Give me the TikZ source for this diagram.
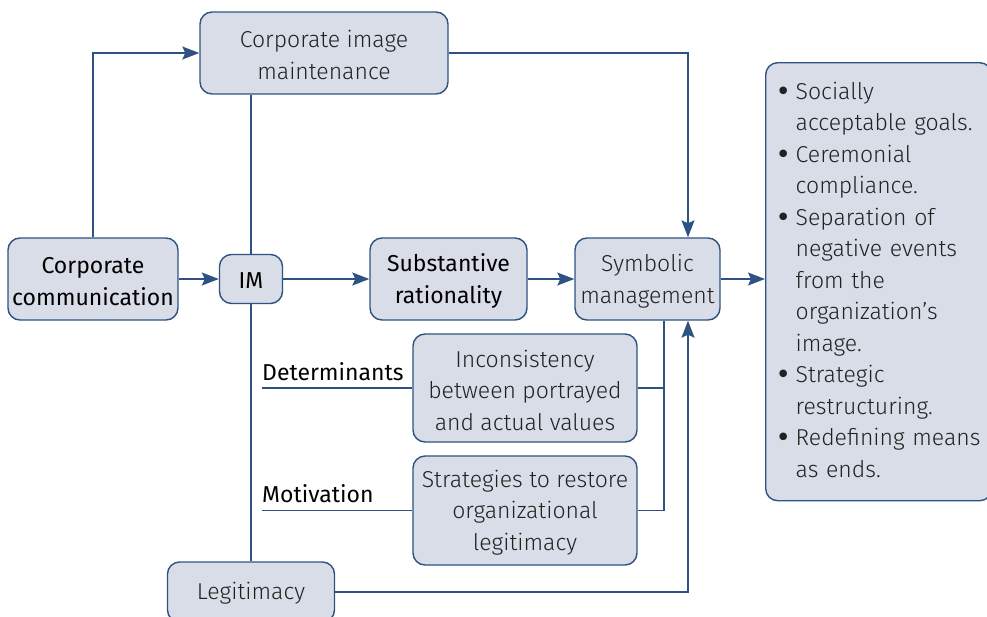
\documentclass[tikz,border=0pt]{standalone}
\usepackage{fontspec}
\usetikzlibrary{arrows.meta}
\newfontfamily\lightf{Fira Sans Light}
\newfontfamily\regf{Fira Sans}
\newfontfamily\dejavu{DejaVu Sans}
\definecolor{boxfill}{HTML}{D8DDE7}
\definecolor{bord}{HTML}{2E5382}
\definecolor{txt}{HTML}{222222}
\newcommand{\bul}{{\dejavu\fontsize{26}{31.5}\selectfont\raisebox{-1pt}{•}}}
\newcommand{\dn}{\rule{0pt}{21.5pt}}
\newcommand{\dns}{\rule{0pt}{19pt}}
\tikzset{
  box/.style={draw=bord, fill=boxfill, rounded corners=12pt, line width=1.4pt,
    align=center, inner sep=0pt, text=txt, font=\lightf\fontsize{23}{31.5}\selectfont},
  boxb/.style={box, font=\regf\fontsize{23}{31.5}\selectfont, text=black},
  lbl/.style={inner sep=0pt, text=black, font=\regf\fontsize{23}{31.5}\selectfont},
  conn/.style={draw=bord, line width=1.4pt},
  arr/.style={conn, -{Stealth[length=17pt,width=13pt,inset=3pt]}}
}
\begin{document}
\begin{tikzpicture}[x=1pt,y=-1pt]
\useasboundingbox (0,0) rectangle (987,616);
\begin{scope}
\clip (0,0) rectangle (987,616);
% nodes
\node[box, minimum width=248pt, minimum height=82pt] (cim) at (324,53) {\dn Corporate image\\maintenance};
\node[boxb, minimum width=170pt, minimum height=82pt] (cc) at (93,279) {\dn Corporate\\communication};
\node[boxb, minimum width=63pt, minimum height=49pt] (im) at (251,279) {\dns IM};
\node[boxb, minimum width=157pt, minimum height=82pt] (sr) at (448.5,279) {\dn Substantive\\rationality};
\node[box, minimum width=145pt, minimum height=82pt] (sm) at (647.5,279) {\dn Symbolic\\management};
\node[box, minimum width=224pt, minimum height=108pt] (inc) at (525,388) {\dn Inconsistency\\between portrayed\\and actual values};
\node[box, minimum width=224pt, minimum height=109pt] (strat) at (525,510.5) {\dn Strategies to restore\\organizational\\legitimacy};
\node[box, minimum width=167pt, minimum height=60pt] (leg) at (251,592) {\dns Legitimacy};
\node[box, anchor=north west, minimum width=226pt, minimum height=438pt, text width=206pt, inner xsep=10pt, align=left] (out) at (765,62) {%
\begin{tabular}{@{}p{20pt}@{}l@{}}
\bul & Socially\\
 & acceptable goals.\\
\bul & Ceremonial\\
 & compliance.\\
\bul & Separation of\\
 & negative events\\
 & from the\\
 & organization’s\\
 & image.\\
\bul & Strategic\\
 & restructuring.\\
\bul & Redefining means\\
 & as ends.
\end{tabular}};
\node[lbl, anchor=base west] (det) at (262,380.5) {Determinants};
\node[lbl, anchor=base west] (mot) at (262,502.5) {Motivation};
% coordinates
\coordinate (detl) at (262,388);
\coordinate (motl) at (262,510.5);
\coordinate (ja) at (688,0);
\coordinate (jb) at (664,0);
% connectors
\draw[arr] (cc.north) |- (cim.west);
\draw[arr] (cim.east) -| (ja |- sm.north);
\draw[conn] (im.north |- cim.south) -- (im.north);
\draw[conn] (im.south) -- (im.south |- leg.north);
\draw[arr] (cc.east) -- (im.west);
\draw[arr] (im.east) -- (sr.west);
\draw[arr] (sr.east) -- (sm.west);
\draw[arr] (sm.east) -- (out.west |- sm.east);
\draw[conn] (detl) -- (inc.west);
\draw[conn] (motl) -- (strat.west);
\draw[conn] (inc.east) -| (jb |- sm.south);
\draw[conn] (strat.east) -| (jb |- sm.south);
\draw[arr] (leg.east) -| (ja |- sm.south);
\end{scope}
\end{tikzpicture}
\end{document}
